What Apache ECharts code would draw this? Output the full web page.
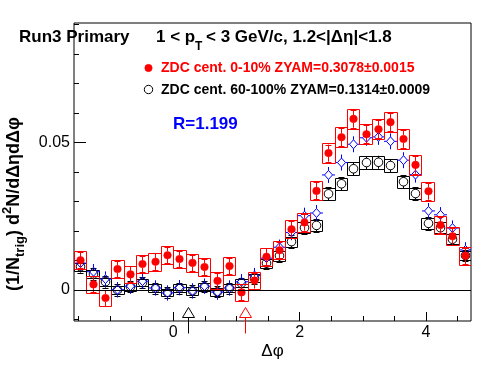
<!DOCTYPE html>
<html><head><meta charset="utf-8">
<script src="https://cdn.jsdelivr.net/npm/echarts@6/dist/echarts.min.js"></script>
<style>html,body{margin:0;padding:0;background:#fff}#c{width:496px;height:374px}</style>
</head><body><div id="c"></div>
<script>
// ---- data ----
const dphi = [-1.4726,-1.2763,-1.0799,-0.8836,-0.6872,-0.4909,-0.2945,-0.0982,0.0982,0.2945,0.4909,0.6872,0.8836,1.0799,1.2763,1.4726,1.6690,1.8653,2.0617,2.2580,2.4544,2.6507,2.8471,3.0434,3.2398,3.4361,3.6325,3.8288,4.0252,4.2215,4.4179,4.6142];
const binWidth = 0.19635;

const red = [0.0101,0.0019,-0.0027,0.0071,0.0053,0.0088,0.0096,0.0118,0.0105,0.0092,0.0078,0.0031,0.0081,-0.0008,0.0032,0.0113,0.0135,0.0206,0.0229,0.0336,0.0464,0.0518,0.0580,0.0528,0.0545,0.0569,0.0512,0.0424,0.0335,0.0220,0.0182,0.0116];
const redStat = [0.0028,0.0027,0.0027,0.0028,0.0027,0.0028,0.0028,0.0028,0.0028,0.0028,0.0028,0.0027,0.0028,0.0027,0.0027,0.0028,0.0028,0.0028,0.0028,0.0029,0.0029,0.0030,0.0030,0.0030,0.0030,0.0030,0.0030,0.0030,0.0029,0.0028,0.0028,0.0028];
const redSys = [0.0030,0.0028,0.0028,0.0030,0.0029,0.0030,0.0030,0.0030,0.0030,0.0030,0.0030,0.0029,0.0030,0.0028,0.0029,0.0030,0.0030,0.0031,0.0031,0.0032,0.0033,0.0034,0.0034,0.0034,0.0034,0.0034,0.0034,0.0033,0.0032,0.0031,0.0031,0.0030];

const black = [0.0079,0.0054,0.0028,0.0000,0.0011,0.0025,0.0006,-0.0008,0.0006,-0.0003,0.0011,-0.0006,0.0006,0.0023,0.0040,0.0091,0.0116,0.0164,0.0211,0.0219,0.0326,0.0360,0.0411,0.0432,0.0433,0.0422,0.0367,0.0327,0.0226,0.0211,0.0172,0.0117];
const blackStat = [0.0020,0.0020,0.0020,0.0019,0.0019,0.0019,0.0019,0.0019,0.0019,0.0019,0.0019,0.0019,0.0019,0.0019,0.0020,0.0020,0.0020,0.0021,0.0021,0.0021,0.0022,0.0022,0.0022,0.0022,0.0022,0.0022,0.0022,0.0022,0.0021,0.0021,0.0021,0.0020];
const blackSys = [0.0014,0.0014,0.0013,0.0013,0.0013,0.0013,0.0013,0.0013,0.0013,0.0013,0.0013,0.0013,0.0013,0.0013,0.0014,0.0015,0.0016,0.0017,0.0018,0.0018,0.0020,0.0021,0.0022,0.0022,0.0022,0.0022,0.0021,0.0020,0.0018,0.0018,0.0017,0.0016];

const blue = [0.0091,0.0062,0.0037,0.0001,0.0013,0.0030,0.0007,-0.0010,0.0008,-0.0003,0.0013,-0.0007,0.0007,0.0028,0.0049,0.0108,0.0145,0.0195,0.0252,0.0261,0.0390,0.0432,0.0494,0.0516,0.0519,0.0504,0.0440,0.0391,0.0268,0.0255,0.0210,0.0136];
const blueStat = [0.0026,0.0026,0.0026,0.0026,0.0026,0.0026,0.0026,0.0026,0.0026,0.0026,0.0026,0.0026,0.0026,0.0026,0.0026,0.0026,0.0026,0.0026,0.0027,0.0027,0.0027,0.0027,0.0027,0.0027,0.0027,0.0027,0.0027,0.0027,0.0027,0.0026,0.0026,0.0026];

const zyamX = [0.23, 1.13];
const zyamColors = ['#000000', '#ff0000'];
const zyamY = -0.0059;

const xMajorTicks = [0, 2, 4];
const xMinorTicks = [-1.5, -1, -0.5, 0.5, 1, 1.5, 2.5, 3, 3.5, 4.5];
const yMajorTicks = [0, 0.05];
const yMinorTicks = [-0.01, 0.01, 0.02, 0.03, 0.04, 0.06, 0.07, 0.08, 0.09];

const X_MIN = -Math.PI / 2, X_MAX = 3 * Math.PI / 2;
const Y_MIN = -0.0105, Y_MAX = 0.0905;

// ---- helpers ----
const FF = '"Liberation Sans", Arial, Helvetica, sans-serif';
const mctx = document.createElement('canvas').getContext('2d');
function tw(text, font) { mctx.font = font; return mctx.measureText(text).width; }
const P = v => Math.round(v) + 0.5;

function pointSeries(vals, stat, sys, color, marker, z) {
  const data = dphi.map((x, i) => [x, vals[i], stat[i], sys ? sys[i] : 0]);
  return {
    type: 'custom', xAxisIndex: 0, yAxisIndex: 0, z: z, clip: true, silent: true,
    data: data,
    renderItem: function (params, api) {
      const x = api.value(0), y = api.value(1), e = api.value(2), s = api.value(3);
      const c = api.coord([x, y]);
      const cx = P(c[0]), cy = c[1];
      const st = { stroke: color, lineWidth: 1, fill: 'none' };
      const ch = [];
      if (s > 0) {
        const a = api.coord([x - binWidth / 2, y + s]);
        const b = api.coord([x + binWidth / 2, y - s]);
        const x1 = P(a[0]), x2 = P(b[0]), y1 = P(a[1]), y2 = P(b[1]);
        ch.push({ type: 'rect', shape: { x: x1, y: y1, width: x2 - x1, height: y2 - y1 }, style: st });
      }
      const yt = api.coord([x, y + e])[1], yb = api.coord([x, y - e])[1];
      const r = marker.r;
      if (cy - r > yt) ch.push({ type: 'line', shape: { x1: cx, y1: cy - r, x2: cx, y2: yt }, style: st });
      if (cy + r < yb) ch.push({ type: 'line', shape: { x1: cx, y1: cy + r, x2: cx, y2: yb }, style: st });
      if (marker.cap) {
        ch.push({ type: 'line', shape: { x1: cx - marker.cap, y1: P(yt), x2: cx + marker.cap, y2: P(yt) }, style: st });
        ch.push({ type: 'line', shape: { x1: cx - marker.cap, y1: P(yb), x2: cx + marker.cap, y2: P(yb) }, style: st });
      }
      if (marker.kind === 'fcircle') {
        ch.push({ type: 'circle', shape: { cx: cx, cy: cy, r: r }, style: { fill: color, stroke: color, lineWidth: 0.5 } });
      } else if (marker.kind === 'ocircle') {
        ch.push({ type: 'circle', shape: { cx: cx, cy: cy, r: r }, style: st });
      } else if (marker.kind === 'odiamond') {
        ch.push({ type: 'polygon', shape: { points: [[cx, cy - r], [cx + r - 0.5, cy], [cx, cy + r], [cx - r + 0.5, cy]] }, style: st });
        ch.push({ type: 'line', shape: { x1: cx - r - 2, y1: cy, x2: cx - r + 0.5, y2: cy }, style: st });
        ch.push({ type: 'line', shape: { x1: cx + r - 0.5, y1: cy, x2: cx + r + 2, y2: cy }, style: st });
      }
      return { type: 'group', children: ch };
    }
  };
}

function textEl(text, x, y, font, fill, align) {
  return { type: 'text', style: { text: text, x: x, y: y, font: font, fill: fill || '#000',
    align: align || 'left', verticalAlign: 'middle', textAlign: align || 'left', textVerticalAlign: 'middle' } };
}

// y title (rotated, with sub/superscripts)
const ytMain = 'bold 18px ' + FF, ytSmall = 'bold 13px ' + FF;
const ytPieces = [['(1/N', ytMain, 0], ['trig', ytSmall, 6], [') d', ytMain, 0], ['2', ytSmall, -7], ['N/d\u0394\u03b7d\u0394\u03c6', ytMain, 0]];
let acc = 0;
const ytChildren = ytPieces.map(p => { const el = textEl(p[0], acc, p[2], p[1]); acc += tw(p[0], p[1]); return el; });

const tFont = 'bold 17px ' + FF;
const graphics = [
  { type: 'group', x: 14, y: 291, rotation: Math.PI / 2, children: ytChildren },
  textEl('Run3 Primary', 19, 37, tFont),
  textEl('1 < p', 156, 37, tFont),
  textEl('T', 195, 47, 'bold 12px ' + FF),
  textEl('< 3 GeV/c, 1.2<|\u0394\u03b7|<1.8', 206, 37, tFont),
  { type: 'circle', shape: { cx: 148.5, cy: 68, r: 3.7 }, style: { fill: '#ff0000', stroke: '#ff0000', lineWidth: 0.5 } },
  textEl('ZDC cent. 0-10% ZYAM=0.3078\u00b10.0015', 161, 68.5, 'bold 14px ' + FF, '#ff0000'),
  { type: 'circle', shape: { cx: 148.5, cy: 89.5, r: 4.2 }, style: { fill: 'none', stroke: '#000', lineWidth: 1 } },
  textEl('ZDC cent. 60-100% ZYAM=0.1314\u00b10.0009', 161, 90, 'bold 14px ' + FF, '#000'),
  textEl('R=1.199', 173, 124, tFont, '#0000ff'),
  textEl('\u0394\u03c6', 272.5, 351, '17px ' + FF, '#000', 'center')
];

const tickStyle = { color: '#000', width: 1 };
const noLine = { show: false, onZero: false };
const option = {
  animation: false,
  backgroundColor: '#fff',
  grid: { left: 74, right: 25, top: 23, bottom: 53, show: true, borderColor: '#000', borderWidth: 1, backgroundColor: 'transparent' },
  xAxis: [
    { type: 'value', min: X_MIN, max: X_MAX, position: 'bottom', axisLine: noLine, splitLine: { show: false },
      axisTick: { show: true, inside: true, length: 9, customValues: xMajorTicks, lineStyle: tickStyle },
      axisLabel: { show: true, customValues: xMajorTicks, margin: 4, color: '#000', fontSize: 16, fontFamily: FF } },
    { type: 'value', min: X_MIN, max: X_MAX, position: 'bottom', axisLine: noLine, splitLine: { show: false },
      axisTick: { show: true, inside: true, length: 5, customValues: xMinorTicks, lineStyle: tickStyle },
      axisLabel: { show: false } }
  ],
  yAxis: [
    { type: 'value', min: Y_MIN, max: Y_MAX, position: 'left', axisLine: noLine, splitLine: { show: false },
      axisTick: { show: true, inside: true, length: 12, customValues: yMajorTicks, lineStyle: tickStyle },
      axisLabel: { show: true, customValues: yMajorTicks, margin: 4, color: '#000', fontSize: 16, fontFamily: FF,
        formatter: v => (Math.abs(v) < 1e-9 ? '0' : String(v)) } },
    { type: 'value', min: Y_MIN, max: Y_MAX, position: 'left', axisLine: noLine, splitLine: { show: false },
      axisTick: { show: true, inside: true, length: 5, customValues: yMinorTicks, lineStyle: tickStyle },
      axisLabel: { show: false } }
  ],
  series: [
    { type: 'line', data: [], xAxisIndex: 0, yAxisIndex: 0, z: 1, silent: true,
      markLine: { silent: true, symbol: ['none', 'none'], label: { show: false }, animation: false,
        lineStyle: { color: '#000', width: 1, type: 'solid' }, data: [{ yAxis: 0 }] } },
    pointSeries(black, blackStat, blackSys, '#000000', { kind: 'ocircle', r: 4.3, cap: 3 }, 2),
    pointSeries(blue, blueStat, null, '#0000ff', { kind: 'odiamond', r: 4.5, cap: 0 }, 3),
    pointSeries(red, redStat, redSys, '#ff0000', { kind: 'fcircle', r: 3.8, cap: 3 }, 4),
    { type: 'custom', xAxisIndex: 0, yAxisIndex: 0, z: 5, clip: false, silent: true,
      data: zyamX.map((x, i) => [x, zyamY, i]),
      renderItem: function (params, api) {
        const c = api.coord([api.value(0), api.value(1)]);
        const cx = P(c[0]), cy = Math.round(c[1]) + 0.5;
        const col = zyamColors[api.value(2)];
        const st = { stroke: col, lineWidth: 1, fill: 'none' };
        return { type: 'group', children: [
          { type: 'polygon', shape: { points: [[cx, cy], [cx + 6, cy + 10], [cx - 6, cy + 10]] }, style: st },
          { type: 'line', shape: { x1: cx, y1: cy + 10, x2: cx, y2: cy + 26 }, style: st }
        ] };
      } }
  ],
  graphic: graphics
};
const chart = echarts.init(document.getElementById('c'), null, { renderer: 'canvas' });
chart.setOption(option);
</script></body></html>
